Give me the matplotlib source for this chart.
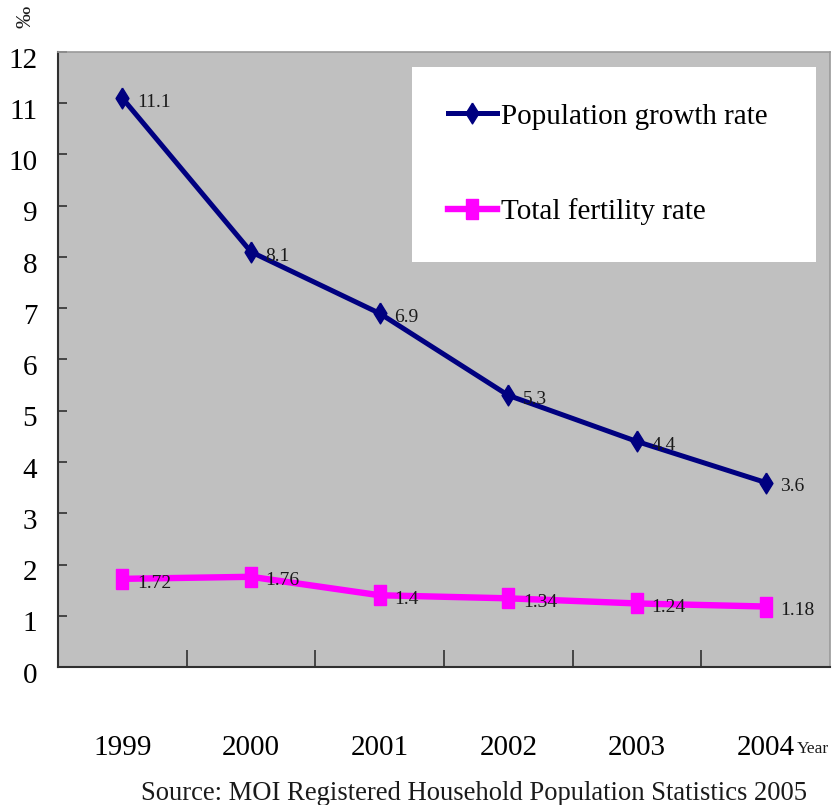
import matplotlib
matplotlib.use("Agg")
import matplotlib.pyplot as plt
from matplotlib.transforms import ScaledTranslation

# ---- data -------------------------------------------------------------
years = ["1999", "2000", "2001", "2002", "2003", "2004"]
growth_rate = [11.1, 8.1, 6.9, 5.3, 4.4, 3.6]
fertility_rate = [1.72, 1.76, 1.4, 1.34, 1.24, 1.18]
y_ticks = list(range(0, 13))
series_names = ["Population growth rate", "Total fertility rate"]
source_note = "Source: MOI Registered Household Population Statistics 2005"

# ---- styling ----------------------------------------------------------
SERIF = ["Liberation Serif", "DejaVu Serif"]
NAVY = "#000080"
MAGENTA = "#FF00FF"
PLOT_BG = "#C0C0C0"

# tall, narrow marker shapes
diamond = [(0, 1), (0.62, 0), (0, -1), (-0.62, 0), (0, 1)]
tall_square = [(-0.63, -1), (0.63, -1), (0.63, 1), (-0.63, 1), (-0.63, -1)]

fig = plt.figure(figsize=(8.34, 8.05), dpi=100)
fig.patch.set_facecolor("white")
ax = fig.add_axes([58 / 834, 1 - 667 / 805, 772 / 834, 615 / 805])
ax.set_facecolor(PLOT_BG)

x = list(range(len(years)))
ax.plot(x, growth_rate, color=NAVY, lw=3.6, marker=diamond, ms=15,
        mfc=NAVY, mec=NAVY, label=series_names[0], zorder=3)
ax.plot(x, fertility_rate, color=MAGENTA, lw=4.6, marker=tall_square, ms=13.7,
        mfc=MAGENTA, mec=MAGENTA, label=series_names[1], zorder=3)

for vals in (growth_rate, fertility_rate):
    for xi, v in zip(x, vals):
        ax.annotate(f"{v:g}", (xi, v), xytext=(10.5, -3), textcoords="offset points",
                    ha="left", va="center", fontsize=14, family=SERIF,
                    color="#1a1a1a", zorder=4)

ax.set_xlim(-0.5, len(years) - 0.5)
ax.set_ylim(0, 12)

# y axis
ax.set_yticks(y_ticks)
ax.set_yticklabels([str(t) for t in y_ticks], family=SERIF, fontsize=21)
ax.tick_params(axis="y", direction="in", length=6.5, width=1.2,
               color="#303030", pad=15)
shift = ScaledTranslation(0, -4 / 72, fig.dpi_scale_trans)
for lab in ax.get_yticklabels():
    lab.set_transform(lab.get_transform() + shift)

# x axis: category labels, tick marks between categories
ax.set_xticks(x)
ax.set_xticklabels(years, family=SERIF, fontsize=21)
ax.tick_params(axis="x", which="major", length=0, pad=49)
ax.set_xticks([i + 0.5 for i in x[:-1]], minor=True)
ax.tick_params(axis="x", which="minor", direction="in", length=12,
               width=1.2, color="#303030")

for side in ("left", "bottom"):
    ax.spines[side].set_color("#303030")
    ax.spines[side].set_linewidth(1.5)
for side in ("top", "right"):
    ax.spines[side].set_color("#9a9a9a")
    ax.spines[side].set_linewidth(1.2)

leg = ax.legend(loc="upper left",
                bbox_to_anchor=(0.4585, 0.667, 0.5235, 0.309),
                mode="expand", borderaxespad=0, frameon=True, fancybox=False,
                facecolor="white", edgecolor="white", framealpha=1,
                prop={"family": SERIF, "size": 21},
                handlelength=1.65, handletextpad=0.15, borderpad=1.25,
                labelspacing=2.35)
leg.get_frame().set_linewidth(0)

# unit mark and axis caption
fig.text(26 / 834, 1 - 17 / 805, "\u2030", rotation=90, ha="center", va="center",
         fontsize=16, family=SERIF, color="#1a1a1a")
fig.text(797 / 834, 1 - 753 / 805, "Year", ha="left", va="baseline",
         fontsize=12.5, family=SERIF, color="#1a1a1a")
fig.text(474 / 834, 1 - 793 / 805, source_note, ha="center", va="center",
         fontsize=19.2, family=SERIF, color="#1a1a1a")

fig.savefig("out.png", dpi=100)
